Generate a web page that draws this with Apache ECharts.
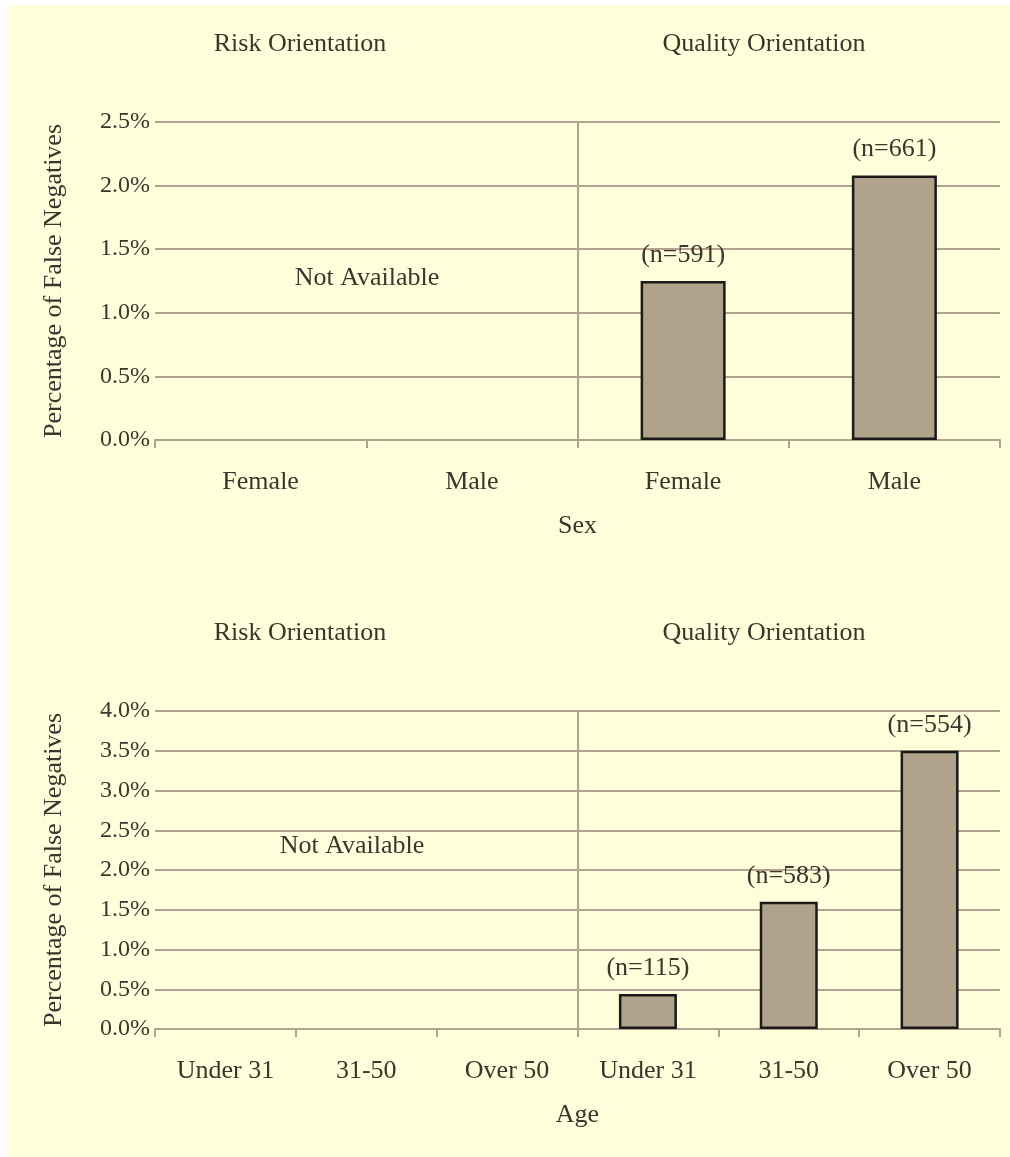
<!doctype html>
<html>
<head>
<meta charset="utf-8">
<title>Percentage of False Negatives</title>
<style>
  html, body { margin: 0; padding: 0; background: #fff; }
  #paper { position: absolute; left: 7px; top: 5px; width: 1003px; height: 1152px; background: #ffffdc; }
  #main { position: absolute; left: 0; top: 0; width: 1010px; height: 1157px; }
</style>
<script src="https://cdn.jsdelivr.net/npm/echarts@6/dist/echarts.min.js"></script>
</head>
<body>
<div id="paper"></div>
<div id="main"></div>
<script>
// data
var sexCats = ['Female', 'Male', 'Female', 'Male'];
var sexVals = [null, null, 1.25, 2.08];
var sexN = ['', '', '(n=591)', '(n=661)'];
var sexRiskCount = 2;

var ageCats = ['Under 31', '31-50', 'Over 50', 'Under 31', '31-50', 'Over 50'];
var ageVals = [null, null, null, 0.44, 1.6, 3.5];
var ageN = ['', '', '', '(n=115)', '(n=583)', '(n=554)'];
var ageRiskCount = 3;

var sexTicks = [0, 0.5, 1.0, 1.5, 2.0, 2.5];
var ageTicks = [0, 0.5, 1.0, 1.5, 2.0, 2.5, 3.0, 3.5, 4.0];

var FONT = 'Liberation Serif';
var TXT = '#3b352e';
var GRIDC = '#b0a28e';

var myChart = echarts.init(document.getElementById('main'));

function xAxisFor(cats, gridIndex, name) {
    return {
        type: 'category',
        gridIndex: gridIndex,
        data: cats,
        name: name,
        nameLocation: 'middle',
        nameGap: 73,
        nameTextStyle: { fontFamily: FONT, fontSize: 26, color: TXT },
        axisLine: { show: true, lineStyle: { color: GRIDC, width: 2 } },
        axisTick: { show: true, length: 8, lineStyle: { color: GRIDC, width: 2 } },
        axisLabel: { fontFamily: FONT, fontSize: 26, color: TXT, margin: 29 },
        splitLine: { show: false }
    };
}

// hidden helper axis used only to place the divider between the two groups
function dividerAxis(count, gridIndex) {
    return {
        type: 'value',
        gridIndex: gridIndex,
        min: 0,
        max: count,
        show: false
    };
}

function yAxisFor(ticks, gridIndex) {
    return {
        type: 'value',
        gridIndex: gridIndex,
        min: ticks[0],
        max: ticks[ticks.length - 1],
        interval: 0.5,
        name: 'Percentage of False Negatives',
        nameLocation: 'middle',
        nameGap: 88,
        nameTextStyle: { fontFamily: FONT, fontSize: 26, color: TXT },
        axisLine: { show: false },
        axisTick: { show: false },
        axisLabel: {
            fontFamily: FONT, fontSize: 24, color: TXT, margin: 5,
            formatter: function (v) { return v.toFixed(1) + '%'; }
        },
        splitLine: { lineStyle: { color: GRIDC, width: 2 } }
    };
}

function barSeries(vals, labels, idx, width) {
    return {
        type: 'bar',
        xAxisIndex: idx,
        yAxisIndex: idx,
        data: vals,
        barWidth: width,
        itemStyle: { color: '#b1a38b', borderColor: '#1b1a18', borderWidth: 2.5 },
        label: {
            show: true,
            position: 'top',
            distance: 13,
            fontFamily: FONT,
            fontSize: 26,
            color: TXT,
            formatter: function (p) { return labels[p.dataIndex]; }
        }
    };
}

function dividerSeries(xIdx, yIdx, pos) {
    return {
        type: 'line',
        xAxisIndex: xIdx,
        yAxisIndex: yIdx,
        data: [],
        silent: true,
        markLine: {
            silent: true,
            symbol: 'none',
            label: { show: false },
            lineStyle: { color: GRIDC, width: 2, type: 'solid' },
            data: [{ xAxis: pos }]
        }
    };
}

function txt(x, y, s) {
    return {
        type: 'text',
        x: x, y: y,
        style: { text: s, font: '26px "' + FONT + '"', fill: TXT, align: 'center', verticalAlign: 'middle' }
    };
}

var option = {
    animation: false,
    backgroundColor: 'transparent',
    grid: [
        { left: 155, right: 10, top: 122, height: 318 },
        { left: 155, right: 10, top: 711, height: 318 }
    ],
    xAxis: [
        xAxisFor(sexCats, 0, 'Sex'),
        xAxisFor(ageCats, 1, 'Age'),
        dividerAxis(sexCats.length, 0),
        dividerAxis(ageCats.length, 1)
    ],
    yAxis: [
        yAxisFor(sexTicks, 0),
        yAxisFor(ageTicks, 1)
    ],
    series: [
        barSeries(sexVals, sexN, 0, 85),
        barSeries(ageVals, ageN, 1, 58),
        dividerSeries(2, 0, sexRiskCount),
        dividerSeries(3, 1, ageRiskCount)
    ],
    graphic: [
        txt(300, 44, 'Risk Orientation'),
        txt(764, 44, 'Quality Orientation'),
        txt(367, 278, 'Not Available'),
        txt(300, 633, 'Risk Orientation'),
        txt(764, 633, 'Quality Orientation'),
        txt(352, 846, 'Not Available')
    ]
};

myChart.setOption(option);
</script>
</body>
</html>
